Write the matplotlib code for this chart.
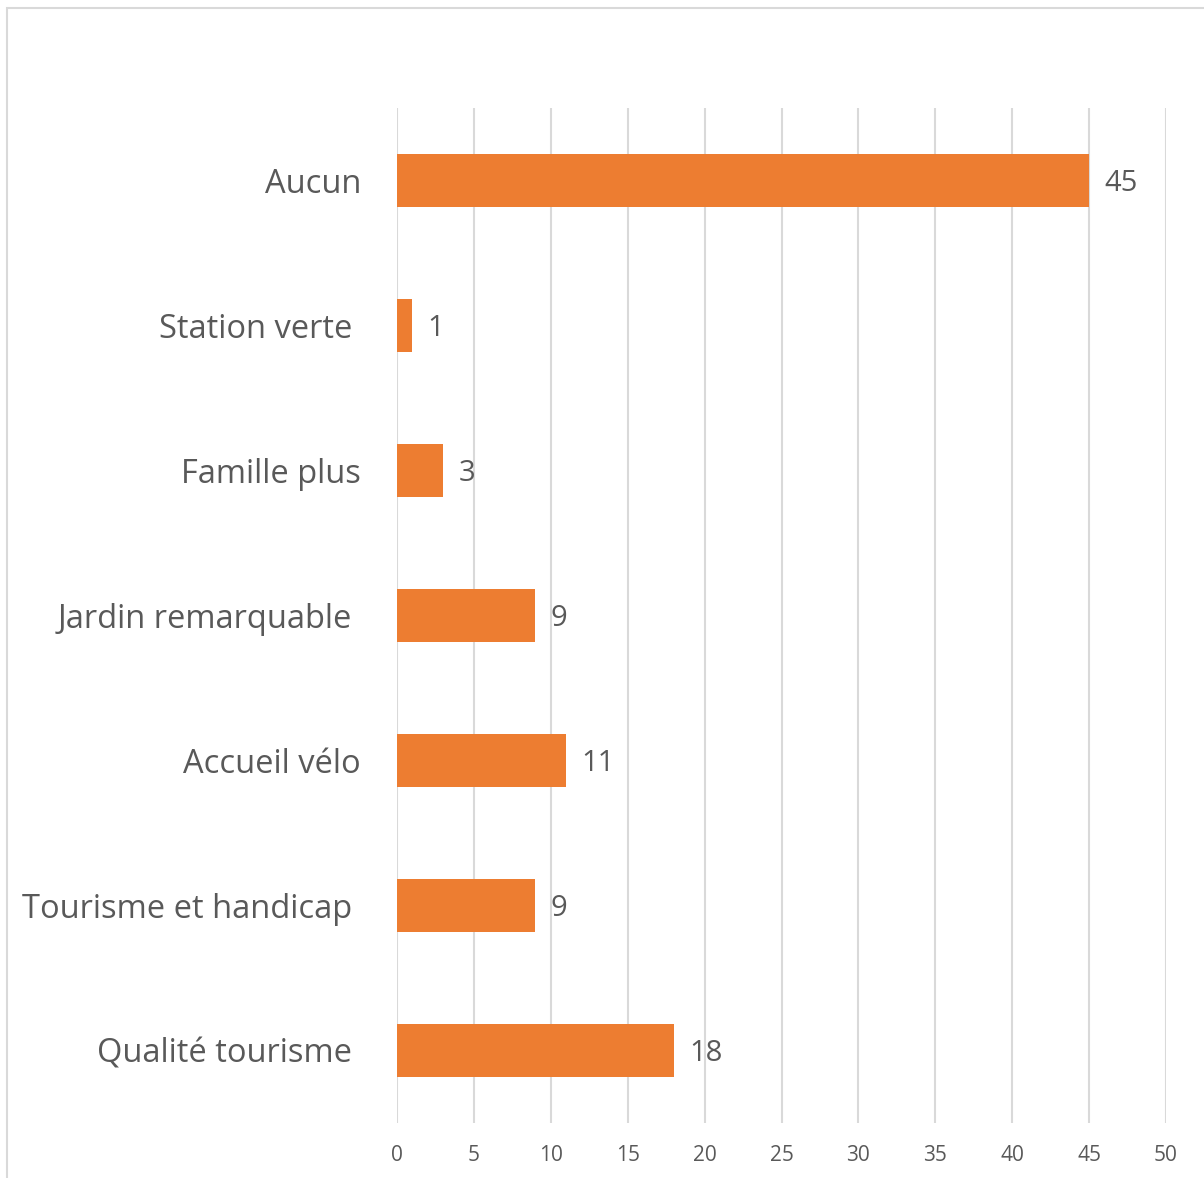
import matplotlib.pyplot as plt
from matplotlib.patches import Rectangle

# data (top to bottom as in the chart)
categories = ['Aucun', 'Station verte ', 'Famille plus', 'Jardin remarquable ',
              'Accueil vélo', 'Tourisme et handicap ', 'Qualité tourisme ']
values = [45, 1, 3, 9, 11, 9, 18]
xticks = [0, 5, 10, 15, 20, 25, 30, 35, 40, 45, 50]

BAR = '#ED7D31'
TXT = '#595959'
GRID = '#D9D9D9'

plt.rcParams['font.family'] = ['Open Sans', 'DejaVu Sans']

W, H = 1204, 1178
fig = plt.figure(figsize=(W / 100, H / 100), dpi=100)

# outer chart border (runs off the right/bottom edge like the screenshot)
fig.patches.append(Rectangle((7 / W, -0.05), 1.0, 1.05 - 8 / H, transform=fig.transFigure,
                             fill=False, edgecolor=GRID, linewidth=1.5))

ax = fig.add_axes([397 / W, 1 - 1123 / H, (1166 - 397) / W, (1123 - 108) / H])

pos = list(range(len(categories)))[::-1]
ax.barh(pos, values, height=0.36, color=BAR, zorder=3)

for p, v in zip(pos, values):
    ax.annotate(str(v), (v, p), xytext=(11, -2.5), textcoords='offset points',
                va='center', ha='left', fontsize=21, color=TXT)

ax.set_xlim(0, 50)
ax.set_ylim(-0.5, len(categories) - 0.5)
ax.set_xticks(xticks)
ax.set_xticklabels([str(t) for t in xticks])
ax.set_yticks(pos)
ax.set_yticklabels(categories)

ax.grid(axis='x', color=GRID, linewidth=1.5, zorder=0)
for s in ax.spines.values():
    s.set_visible(False)
ax.tick_params(axis='x', length=0, pad=16, labelsize=15, labelcolor=TXT)
ax.tick_params(axis='y', length=0, pad=26, labelsize=23.5, labelcolor=TXT)

fig.savefig('out.png', dpi=100)
